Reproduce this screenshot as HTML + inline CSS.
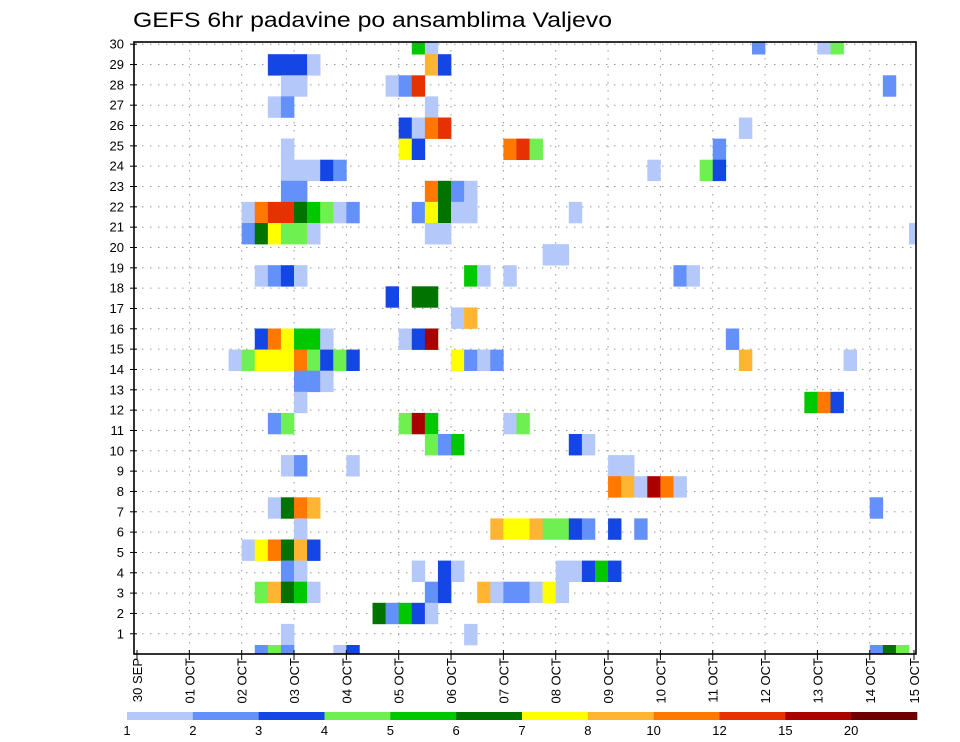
<!DOCTYPE html>
<html><head><meta charset="utf-8"><style>
html,body{margin:0;padding:0;background:#fff;}
svg{display:block;font-family:"Liberation Sans",sans-serif;}
</style></head><body>
<svg id="chart" width="960" height="742" viewBox="0 0 960 742" xmlns="http://www.w3.org/2000/svg">
<rect x="0" y="0" width="960" height="742" fill="#fff"/>
<text x="133" y="27" font-size="21" fill="#000" textLength="479" lengthAdjust="spacingAndGlyphs">GEFS 6hr padavine po ansamblima Valjevo</text>
<g id="grid"></g>
<g id="cells"></g>
<g id="axes"></g>
<g id="cbar"></g>
</svg>
<script>
// ---- data ----
const dayLabels = ["30 SEP","01 OCT","02 OCT","03 OCT","04 OCT","05 OCT","06 OCT","07 OCT","08 OCT","09 OCT","10 OCT","11 OCT","12 OCT","13 OCT","14 OCT","15 OCT"];
const memberLabels = [1,2,3,4,5,6,7,8,9,10,11,12,13,14,15,16,17,18,19,20,21,22,23,24,25,26,27,28,29,30];
const levelLabels = ["1","2","3","4","5","6","7","8","10","12","15","20"];
const levelColors = ["#b4c8fa","#6490fa","#1446e6","#6ef050","#00c800","#007300","#ffff00","#ffb432","#ff7800","#e63200","#aa0000","#6e0000"];
// each entry: member row index (bottom=0), then "timestep:level" pairs (6-hourly steps)
const rowIndex = [29,28,27,26,25,24,23,22,21,20,19,18,17,16,15,14,13,12,11,10,9,8,7,6,5,4,3,2,1,0];
const rowValues = [
 "21:4 22:0 47:1 52:0 53:3",
 "10:2 11:2 12:2 13:0 22:7 23:2",
 "11:0 12:0 19:0 20:1 21:9 57:1",
 "10:0 11:1 22:0",
 "20:2 21:0 22:8 23:9 46:0",
 "11:0 20:6 21:2 28:8 29:9 30:3 44:1",
 "11:0 12:0 13:0 14:2 15:1 39:0 43:3 44:2",
 "11:1 12:1 22:8 23:5 24:1 25:0",
 "8:0 9:8 10:9 11:9 12:5 13:4 14:3 15:0 16:1 21:1 22:6 23:5 24:0 25:0 33:0",
 "8:1 9:5 10:6 11:3 12:3 13:0 22:0 23:0 59:0",
 "31:0 32:0",
 "9:0 10:1 11:2 12:0 25:4 26:0 28:0 41:1 42:0",
 "19:2 21:5 22:5",
 "24:0 25:7",
 "9:2 10:8 11:6 12:4 13:4 14:0 20:0 21:2 22:10 45:1",
 "7:0 8:3 9:6 10:6 11:6 12:8 13:3 14:2 15:3 16:2 24:6 25:1 26:0 27:1 46:7 54:0",
 "12:1 13:1 14:0",
 "12:0 51:4 52:8 53:2",
 "10:1 11:3 20:3 21:10 22:4 28:0 29:3",
 "22:3 23:1 24:4 33:2 34:0",
 "11:0 12:1 16:0 36:0 37:0",
 "36:8 37:7 38:0 39:10 40:8 41:0",
 "10:0 11:5 12:8 13:7 56:1",
 "12:0 27:7 28:6 29:6 30:7 31:3 32:3 33:2 34:1 36:2 38:1",
 "8:0 9:6 10:8 11:5 12:7 13:2",
 "11:1 12:0 21:0 23:2 24:0 32:0 33:0 34:2 35:4 36:2",
 "9:3 10:7 11:5 12:4 13:0 22:1 23:2 26:7 27:0 28:1 29:1 30:0 31:6 32:0",
 "18:5 19:1 20:4 21:2 22:0",
 "11:0 25:0",
 "9:1 10:3 11:1 15:0 16:2 56:1 57:5 58:3"
];
// ---- geometry ----
const L=134, R=916, T=42, B=654;
const NS="http://www.w3.org/2000/svg";
function xStep(t){return 137+13.085*t;}
function xDay(d){return d===15?914:xStep(4*d);}
function yCellTop(k){return 645-21.1*k;}
const cellH=21.1, cellW=13.085;
function yLabel(m){return 654.1-20.33*m;}
function mk(tag,attrs,parent){const e=document.createElementNS(NS,tag);for(const k in attrs)e.setAttribute(k,attrs[k]);parent.appendChild(e);return e;}
const grid=document.getElementById('grid'), cells=document.getElementById('cells'), axes=document.getElementById('axes'), cbar=document.getElementById('cbar');
// grid
memberLabels.forEach(m=>{
  const y=yLabel(m);
  const ln=mk('line',{x1:L,x2:R,y1:y,y2:y,stroke:'#999','stroke-width':1,'stroke-dasharray':'1.5 6.5'},grid);
  
  
});
dayLabels.forEach((d,i)=>{
  if(i===0||i===15)return;
  const x=xDay(i);
  const ln=mk('line',{x1:x,x2:x,y1:T,y2:B,stroke:'#999','stroke-width':1,'stroke-dasharray':'1.5 6.5'},grid);
  
  
});
// cells
mk('clipPath',{id:'pc'},cells);
document.getElementById('pc').appendChild(Object.assign(document.createElementNS(NS,'rect'),{}));
const cr=document.getElementById('pc').firstChild;
cr.setAttribute('x',L);cr.setAttribute('y',T);cr.setAttribute('width',R-L);cr.setAttribute('height',B-T);
const cg=mk('g',{'clip-path':'url(#pc)'},cells);
rowValues.forEach((s,i)=>{
  const k=rowIndex[i];
  s.trim().split(/\s+/).forEach(p=>{
    const [t,c]=p.split(':').map(Number);
    const r=mk('rect',{x:xStep(t),y:yCellTop(k),width:cellW+0.3,height:cellH+0.3,fill:levelColors[c]},cg);
    
    
  });
});
// frame
const fr=mk('rect',{x:L,y:T,width:R-L,height:B-T,fill:'none',stroke:'#000','stroke-width':1.6},axes);


// y axis labels
memberLabels.forEach(m=>{
  const y=yLabel(m);
  mk('line',{x1:L-4,x2:L+3,y1:y,y2:y,stroke:'#000','stroke-width':1},axes);
  const t=mk('text',{x:124,y:y+4.5,'font-size':13,'text-anchor':'end',fill:'#000'},axes);
  t.textContent=m;
  
  
});
// x axis labels
dayLabels.forEach((d,i)=>{
  const x=xDay(i);
  mk('line',{x1:x,x2:x,y1:B-4,y2:B+6,stroke:'#000','stroke-width':1},axes);
  const t=mk('text',{x:0,y:0,'font-size':13,'text-anchor':'end',fill:'#000',transform:'translate('+(x+5)+',658) rotate(-90)'},axes);
  t.textContent=d;
  
  
});
// colorbar
const cbL=127, cbW=(917-127)/12;
levelColors.forEach((c,i)=>{
  const r=mk('rect',{x:cbL+i*cbW,y:712,width:cbW+0.3,height:8,fill:c},cbar);
  
  
});
levelLabels.forEach((l,i)=>{
  const t=mk('text',{x:cbL+i*cbW,y:735,'font-size':13,'text-anchor':'middle',fill:'#000'},cbar);
  t.textContent=l;
  
  
});
</script>
</body></html>
